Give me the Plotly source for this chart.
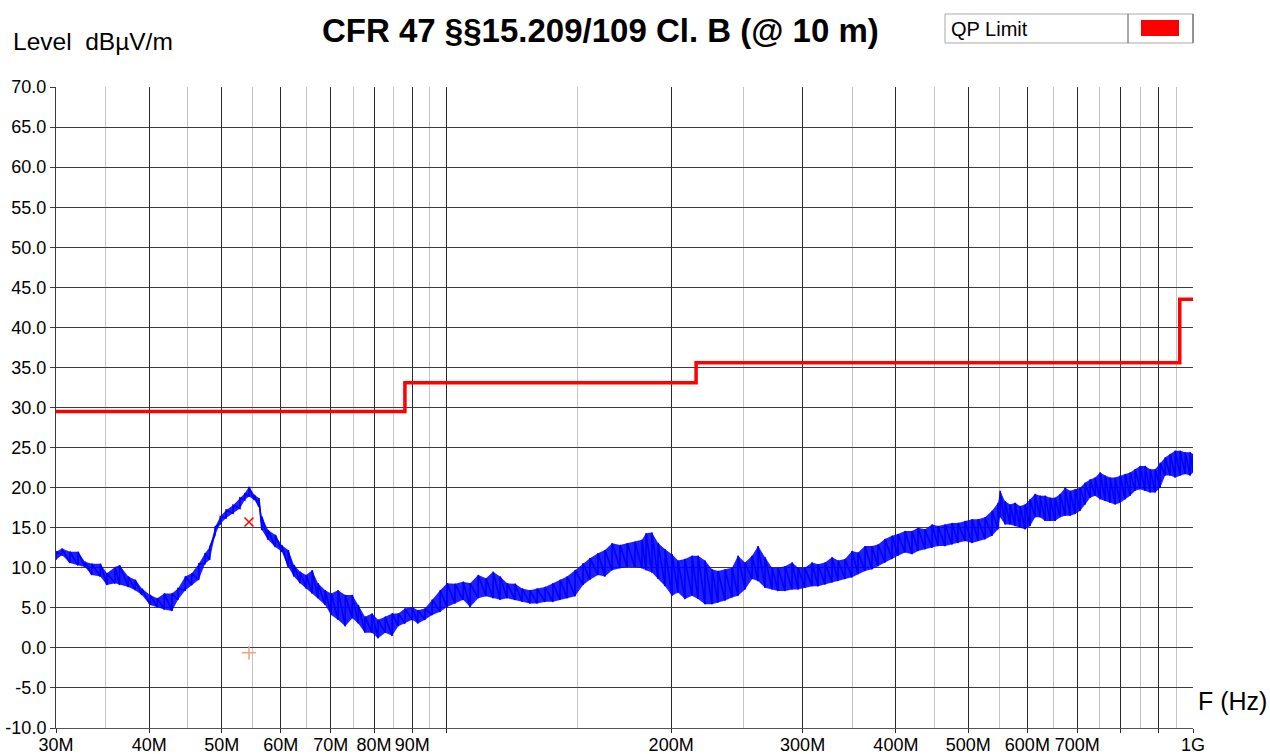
import math
import plotly.graph_objects as go

# ---------------- data ----------------
freq_mhz = [30.0, 30.56, 31.32, 32.1, 32.8, 33.5, 34.4, 35.1, 36.0, 36.5, 37.5, 38.3, 39.1, 40.1,
            41.0, 41.9, 42.9, 43.7, 44.7, 45.6, 46.6, 47.5, 48.2, 49.0, 49.8, 50.7, 51.8, 52.9,
            53.7, 54.4, 55.3, 56.1, 56.6, 57.7, 59.0, 60.2, 61.4, 62.5, 63.7, 64.9, 66.1, 67.3,
            68.8, 70.1, 71.6, 73.2, 74.8, 76.2, 77.8, 79.5, 81.0, 82.8, 84.6, 86.2, 88.0, 90.0,
            91.6, 93.6, 95.7, 98.1, 100.2, 102.7, 105.3, 107.6, 110.3, 113.0, 115.5, 118.0,
            120.6, 123.6, 126.3, 129.4, 132.3, 135.6, 138.9, 142.0, 145.1, 148.7, 152.4, 155.7,
            159.6, 163.1, 166.7, 170.8, 174.6, 178.9, 182.8, 185.1, 188.5, 192.1, 196.3, 200.5,
            204.3, 208.7, 213.3, 217.3, 222.0, 226.9, 231.1, 236.2, 241.3, 245.8, 251.2, 256.7,
            261.5, 267.2, 273.0, 278.1, 284.2, 290.4, 295.8, 302.2, 308.8, 314.6, 321.5, 328.5,
            334.6, 341.9, 349.4, 355.9, 363.7, 371.6, 378.6, 386.8, 395.3, 402.6, 411.4, 420.4,
            428.3, 437.6, 447.2, 455.5, 465.5, 475.6, 484.5, 495.1, 505.9, 515.4, 526.6, 538.1,
            548.2, 551.6, 560.1, 568.9, 577.7, 586.7, 595.8, 605.1, 614.5, 624.1, 633.8, 643.6,
            653.6, 663.8, 674.1, 684.6, 695.2, 706.0, 717.0, 728.2, 739.5, 751.0, 762.7, 774.5,
            786.6, 798.8, 811.2, 823.8, 836.6, 849.6, 862.8, 876.2, 889.9, 903.7, 917.7, 932.0,
            946.5, 961.2, 976.1, 991.3, 1000.0]
level_lo = [11.0, 11.6, 10.6, 10.3, 10.1, 9.1, 8.9, 7.85, 8.05, 7.85, 7.6, 7.2, 6.6, 5.35,
            5.1, 4.8, 4.6, 6.0, 7.2, 7.85, 8.5, 10.5, 11.0, 14.1, 15.5, 16.2, 16.8, 17.4,
            18.45, 18.9, 18.45, 17.6, 14.7, 13.5, 12.6, 12.0, 10.1, 8.9, 8.05, 7.4, 6.8, 6.2,
            5.35, 4.1, 3.5, 2.7, 3.7, 3.05, 1.9, 1.9, 1.2, 1.9, 1.5, 2.7, 3.05, 3.5,
            3.05, 3.5, 4.1, 4.5, 5.1, 5.55, 6.0, 5.1, 6.2, 6.45, 6.2, 6.0,
            6.2, 6.0, 5.75, 5.55, 5.55, 5.75, 5.75, 6.0, 6.2, 6.45, 7.85, 8.5,
            9.1, 8.9, 9.7, 9.93, 10.1, 10.1, 9.93, 9.7, 9.4, 8.6, 7.7, 6.5,
            6.9, 6.1, 6.5, 6.1, 5.45, 5.45, 5.65, 5.9, 6.3, 6.5, 7.3, 8.6,
            8.35, 7.5, 7.3, 7.1, 7.1, 7.3, 7.3, 7.5, 7.7, 7.7, 7.9, 8.15,
            8.35, 8.6, 8.8, 9.2, 9.6, 9.8, 10.2, 10.65, 11.1, 11.5, 11.9, 11.7,
            12.1, 12.3, 12.5, 12.7, 12.7, 12.9, 13.1, 13.35, 13.1, 13.35, 13.55, 14.0,
            14.8, 16.3, 15.4, 15.4, 15.2, 15.0, 14.8, 15.2, 16.3, 16.3, 15.85, 15.85,
            15.85, 16.3, 16.5, 16.5, 16.7, 17.1, 17.9, 18.75, 19.0, 18.55, 18.35, 18.1,
            17.9, 18.1, 18.55, 19.0, 19.6, 19.8, 19.6, 19.4, 19.4, 20.0, 21.5, 21.5,
            21.25, 21.5, 21.7, 21.5, 21.9]
level_hi = [12.0, 12.4, 12.0, 12.0, 10.75, 10.5, 10.5, 9.3, 10.1, 10.3, 8.9, 8.5, 7.4, 6.6,
            6.2, 6.8, 6.8, 7.4, 8.9, 9.3, 10.5, 11.8, 12.6, 15.1, 16.4, 17.2, 17.8, 18.7,
            19.3, 20.1, 19.1, 18.7, 16.4, 14.7, 14.1, 12.8, 12.2, 10.35, 9.5, 9.1, 9.7, 8.05,
            7.2, 6.8, 7.2, 6.6, 6.6, 5.35, 3.9, 4.3, 3.5, 3.9, 4.3, 4.3, 4.9, 5.1,
            4.7, 4.9, 6.0, 7.2, 8.05, 8.0, 8.25, 8.05, 9.1, 8.7, 9.5, 8.9,
            8.05, 8.0, 7.4, 7.2, 7.4, 7.6, 8.05, 8.5, 8.9, 9.7, 10.55, 11.2,
            11.8, 12.2, 13.05, 12.85, 13.05, 13.25, 13.5, 14.3, 14.4, 13.1, 12.3, 11.7,
            10.9, 11.1, 11.5, 11.5, 10.9, 9.8, 9.6, 9.8, 10.0, 11.5, 10.65, 11.5,
            12.7, 11.3, 10.0, 10.0, 10.2, 10.65, 10.0, 10.0, 10.65, 10.45, 10.65, 11.3,
            10.9, 11.1, 12.1, 11.9, 12.7, 12.7, 12.9, 13.6, 14.0, 14.2, 14.6, 14.6,
            15.0, 14.8, 15.4, 15.2, 15.4, 15.6, 15.6, 15.85, 16.05, 16.05, 16.3, 17.1,
            18.1, 19.6, 18.3, 17.9, 18.1, 17.7, 17.9, 18.55, 19.2, 19.0, 19.0, 18.75,
            18.75, 19.2, 20.0, 19.6, 19.8, 20.0, 20.6, 21.0, 21.25, 21.9, 21.5, 21.25,
            21.25, 21.5, 21.7, 21.9, 22.3, 22.7, 22.7, 22.3, 22.3, 23.1, 23.75, 24.2,
            24.6, 24.6, 24.4, 24.4, 24.2]

limit_edges_mhz = [30, 88, 216, 960, 1000]
limit_levels = [29.5, 33.1, 35.6, 43.5]

peak_mhz = [54.4]
peak_level = [15.7]
final_mhz = [54.4]
final_level = [-0.6]

x_major_mhz = [30, 40, 50, 60, 70, 80, 90, 100, 200, 300, 400, 500, 600, 700, 800, 900, 1000]
x_major_text = ["30M", "40M", "50M", "60M", "70M", "80M", "90M", "", "200M", "300M", "400M",
                "500M", "600M", "700M", "", "", "1G"]
x_minor_mhz = [35, 45, 55, 65, 75, 85, 95, 150, 250, 350, 450, 550, 650, 750, 850, 950]
y_ticks = [-10, -5, 0, 5, 10, 15, 20, 25, 30, 35, 40, 45, 50, 55, 60, 65, 70]

title_text = "CFR 47 §§15.209/109 Cl. B (@ 10 m)"
y_title = "Level&nbsp;&nbsp;dBµV/m"
x_title = "F (Hz)"
legend_text = "QP Limit"

# ---------------- figure ----------------
W, H = 1270, 754
L, R, T, B = 56, 1193, 87, 728   # plot area in page pixels
FONT = "Liberation Sans, Arial, sans-serif"


def px(xp):
    return (xp - L) / (R - L)


def py(yp):
    return (B - yp) / (B - T)


fig = go.Figure()

zx, zy = [], []
for f, lo, hi in zip(freq_mhz, level_lo, level_hi):
    zx += [f * 1e6, f * 1e6]
    zy += [lo, hi]
fig.add_trace(go.Scatter(
    x=[f * 1e6 for f in freq_mhz] + [f * 1e6 for f in freq_mhz[::-1]],
    y=level_hi + level_lo[::-1], mode="lines", fill="toself",
    fillcolor="rgba(0,0,255,0.88)", line=dict(width=0), hoverinfo="skip"))
fig.add_trace(go.Scatter(x=zx, y=zy, mode="lines",
                         line=dict(color="#0000FF", width=1.6)))

# limit line
fig.add_trace(go.Scatter(
    x=[f * 1e6 for f in limit_edges_mhz], y=limit_levels + limit_levels[-1:],
    mode="lines", line=dict(color="#FF0000", width=3.5, shape="hv")))

# markers
fig.add_trace(go.Scatter(x=[f * 1e6 for f in peak_mhz], y=peak_level, mode="markers",
                         marker=dict(symbol="x-thin", size=9,
                                     line=dict(color="#FF0000", width=1.5))))
fig.add_trace(go.Scatter(x=[f * 1e6 for f in final_mhz], y=final_level, mode="markers",
                         marker=dict(symbol="cross-thin", size=10,
                                     line=dict(color="#F5A07A", width=1.5))))

fig.update_layout(
    width=W, height=H,
    margin=dict(l=L, r=W - R, t=T, b=H - B, pad=0, autoexpand=False),
    paper_bgcolor="white", plot_bgcolor="white", showlegend=False,
    font=dict(family=FONT, color="black", size=18),
)

fig.update_xaxes(
    type="log", range=[math.log10(30e6), math.log10(1e9)],
    tickmode="array", tickvals=[v * 1e6 for v in x_major_mhz], ticktext=x_major_text,
    showgrid=True, gridcolor="#2a2a2a", gridwidth=1,
    minor=dict(tickmode="array", tickvals=[v * 1e6 for v in x_minor_mhz],
               showgrid=True, gridcolor="#c4c4c4", gridwidth=1, ticks=""),
    ticks="outside", ticklen=4, tickcolor="#2a2a2a", tickwidth=1,
    ticklabelstandoff=-4,
    tickfont=dict(size=18, family=FONT, color="black"),
    showline=True, linecolor="#555555", linewidth=1, zeroline=False,
)
fig.update_yaxes(
    range=[-10, 70], tickmode="array", tickvals=y_ticks,
    ticktext=[f"{v:.1f}" for v in y_ticks],
    showgrid=True, gridcolor="#3c3c3c", gridwidth=1,
    ticks="outside", ticklen=5, tickcolor="#3c3c3c",
    tickfont=dict(size=18, family=FONT, color="black"),
    showline=True, linecolor="#3c3c3c", linewidth=1, zeroline=False,
)

# texts
fig.add_annotation(text="<b>" + title_text + "</b>", xref="paper", yref="paper",
                   x=px(600), y=py(31), xanchor="center", yanchor="middle", showarrow=False,
                   font=dict(size=33, family=FONT, color="black"))
fig.add_annotation(text=y_title, xref="paper", yref="paper", x=px(11), y=py(41),
                   xanchor="left", yanchor="middle", showarrow=False,
                   font=dict(size=24.5, family=FONT, color="black"))
fig.add_annotation(text=x_title, xref="paper", yref="paper", x=px(1196), y=py(701),
                   xanchor="left", yanchor="middle", showarrow=False,
                   font=dict(size=25, family=FONT, color="black"))

# legend box
fig.add_shape(type="rect", xref="paper", yref="paper", x0=px(945), x1=px(1193), y0=py(43), y1=py(14),
              line=dict(color="#a8a8a8", width=1), fillcolor="white")
fig.add_shape(type="line", xref="paper", yref="paper", x0=px(1128), x1=px(1128), y0=py(43), y1=py(14),
              line=dict(color="#555555", width=1))
fig.add_shape(type="line", xref="paper", yref="paper", x0=px(1193), x1=px(1193), y0=py(43), y1=py(14),
              line=dict(color="#555555", width=1))
fig.add_shape(type="rect", xref="paper", yref="paper", x0=px(1141), x1=px(1179), y0=py(36), y1=py(20),
              line=dict(width=0), fillcolor="#FF0000")
fig.add_annotation(text=legend_text, xref="paper", yref="paper", x=px(949), y=py(28.5),
                   xanchor="left", yanchor="middle", showarrow=False,
                   font=dict(size=20, family=FONT, color="black"))

# remove the default 8px page margin so the 1270x754 figure fills the window exactly
fig.write_html("out.html", config={"displayModeBar": False},
               post_script="document.body.style.margin='0';document.body.style.overflow='hidden';")
